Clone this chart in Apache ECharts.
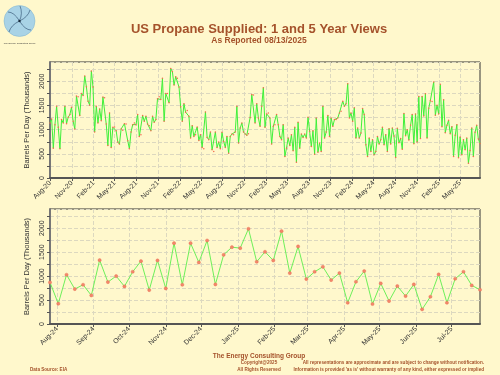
<!DOCTYPE html>
<html><head><meta charset="utf-8">
<script src="https://cdn.jsdelivr.net/npm/echarts@6/dist/echarts.min.js"></script>
<style>html,body{margin:0;padding:0;background:#fff8cc;}#c{width:500px;height:375px;}</style>
</head><body><div id="c"></div>
<script>
// ---- data ----
const firstWeek = [2020, 7, 31]; // first weekly observation (y, m, d)
const weeklySupplied = [
1139,1222,618,1104,1486,1049,604,1208,1139,1486,1125,1257,1312,1465,1174,1014,1694,1680,1292,1750,
1708,2111,1889,1590,1507,2215,1882,951,1486,1139,1430,1187,1674,1660,1118,674,1347,632,1049,1055,
979,743,701,1014,986,1125,1118,771,604,951,1104,1139,1104,1312,861,896,1292,1174,1278,1118,
1083,979,1278,1153,1208,1639,1680,1625,2062,1174,1750,1750,1555,2264,2201,1923,2097,2062,1882,1472,
1174,1535,1361,1396,1278,826,1083,861,896,1055,778,896,632,604,1368,840,792,951,583,549,
951,632,743,604,944,757,632,861,514,861,910,896,951,1486,722,1035,1139,951,910,882,
917,1250,
1729,1715,1139,1535,1243,1069,1486,1868,1049,1326,1347,1243,701,1069,1104,1312,1104,861,792,1104,
444,618,826,674,896,563,1049,326,1153,618,910,840,910,826,1257,965,653,979,493,1243,
535,722,549,1486,826,951,1292,861,1243,1069,1208,1208,1243,1347,1382,1590,1486,1535,1951,1243,
1347,1174,1451,826,1035,826,931,1437,1312,687,444,826,549,792,479,549,861,701,792,1049,
687,896,549,1021,701,1035,
868,424,1028,729,819,597,1333,875,1000,785,1090,1312,708,1326,743,1687,819,1687,1285,1743,
826,1444,1604,1583,1986,1299,1507,1326,1938,1062,1618,938,1090,1194,917,1062,444,882,1104,417,
847,479,792,583,826,306,569,1035,444,944,1090,806,715
];
const oneYearWeeks = 53;
const fiveYearTicks = ['2020-08-01','2020-11-01','2021-02-01','2021-05-01','2021-08-01','2021-11-01',
  '2022-02-01','2022-05-01','2022-08-01','2022-11-01','2023-02-01','2023-05-01','2023-08-01','2023-11-01',
  '2024-02-01','2024-05-01','2024-08-01','2024-11-01','2025-02-01','2025-05-01'];
const oneYearTicks = ['2024-08-01','2024-09-01','2024-10-01','2024-11-01','2024-12-01','2025-01-01',
  '2025-02-01','2025-03-01','2025-04-01','2025-05-01','2025-06-01','2025-07-01'];
const yTickLabels = [0, 500, 1000, 1500, 2000];
const monthNames = ['Jan','Feb','Mar','Apr','May','Jun','Jul','Aug','Sep','Oct','Nov','Dec'];

// ---- build ----
function ts(s){ const p = s.split('-').map(Number); return new Date(p[0], p[1]-1, p[2]).getTime(); }
const weekDates = weeklySupplied.map((_, i) => new Date(firstWeek[0], firstWeek[1]-1, firstWeek[2] + 7*i).getTime());
const fivePairs = weeklySupplied.map((v, i) => [weekDates[i], v]);
const onePairs = fivePairs.slice(fivePairs.length - oneYearWeeks);
const fiveTickTs = fiveYearTicks.map(ts);
const oneTickTs = oneYearTicks.map(ts);
const fmtDate = v => { const d = new Date(v); return monthNames[d.getMonth()] + '-' + String(d.getFullYear()).slice(2); };

const FONT = 'Liberation Sans';
const BROWN = '#a5522b';
const gridLine = {show:true, lineStyle:{type:'dashed', color:'#dcd8bf', width:1}};

function xAxisCfg(idx, ticks, min, max){
  return {
    type:'value', gridIndex:idx, min:min, max:max, scale:true,
    axisLine:{show:true, onZero:false, lineStyle:{color:'#555', width:2}},
    axisTick:{show:true, length:3, customValues:ticks, lineStyle:{color:'#555'}},
    axisLabel:{customValues:ticks, formatter:fmtDate, rotate:45, fontSize:7, color:'#333', fontFamily:FONT, margin:4, hideOverlap:false},
    splitLine:gridLine
  };
}
function yAxisCfg(idx){
  return {
    type:'value', gridIndex:idx, min:0, max:2400, interval:250,
    name:'Barrels Per Day (Thousands)', nameLocation:'middle', nameGap:18,
    nameTextStyle:{fontSize:7.5, color:'#333', fontFamily:FONT},
    axisLine:{show:true, lineStyle:{color:'#777', width:2}},
    axisTick:{show:true, length:3, lineStyle:{color:'#555'}},
    axisLabel:{rotate:90, fontSize:7, color:'#333', fontFamily:FONT, margin:4, showMaxLabel:false,
      formatter: v => yTickLabels.indexOf(v) >= 0 ? String(v) : ''},
    splitLine:gridLine
  };
}

const chart = echarts.init(document.getElementById('c'), null, {renderer:'canvas'});
chart.setOption({
  backgroundColor:'#fff8cc',
  animation:false,
  grid:[
    {left:50, right:20, top:62, height:116, show:true, borderColor:'#333', borderWidth:1, backgroundColor:'transparent'},
    {left:50, right:20, top:209, height:115, show:true, borderColor:'#333', borderWidth:1, backgroundColor:'transparent'}
  ],
  xAxis:[
    xAxisCfg(0, fiveTickTs, weekDates[0], weekDates[weekDates.length-1]),
    xAxisCfg(1, oneTickTs, onePairs[0][0], onePairs[onePairs.length-1][0])
  ],
  yAxis:[yAxisCfg(0), yAxisCfg(1)],
  series:[
    {type:'line', xAxisIndex:0, yAxisIndex:0, data:fivePairs, showAllSymbol:true,
     symbol:'circle', symbolSize:1.5, itemStyle:{color:'#f56a4e'},
     lineStyle:{color:'#3ff03a', width:1}, z:2},
    {type:'line', xAxisIndex:1, yAxisIndex:1, data:onePairs, showAllSymbol:true,
     symbol:'circle', symbolSize:3.2, itemStyle:{color:'#f3876c', borderColor:'#e8664a', borderWidth:0.4},
     lineStyle:{color:'#6ef05a', width:1}}
  ],
  graphic:[
    {type:'circle', shape:{cx:19.5, cy:21, r:15.5}, style:{fill:'#a9d3e6', stroke:'#7fb3cf', lineWidth:0.5}},
    {type:'bezierCurve', shape:{x1:19.5,y1:21,x2:8,y2:12,cpx1:14,cpy1:12}, style:{stroke:'#2a4a6a', lineWidth:0.6, fill:null}},
    {type:'bezierCurve', shape:{x1:19.5,y1:21,x2:31,y2:30,cpx1:25,cpy1:30}, style:{stroke:'#2a4a6a', lineWidth:0.6, fill:null}},
    {type:'bezierCurve', shape:{x1:19.5,y1:21,x2:30,y2:10,cpx1:28,cpy1:17}, style:{stroke:'#2a4a6a', lineWidth:0.6, fill:null}},
    {type:'bezierCurve', shape:{x1:19.5,y1:21,x2:9,y2:32,cpx1:11,cpy1:25}, style:{stroke:'#2a4a6a', lineWidth:0.6, fill:null}},
    {type:'bezierCurve', shape:{x1:19.5,y1:21,x2:20,y2:6,cpx1:23,cpy1:13}, style:{stroke:'#2a4a6a', lineWidth:0.6, fill:null}},
    {type:'circle', shape:{cx:19.5, cy:21, r:1.2}, style:{fill:'#1a2a3a'}},
    {type:'text', x:19.5, y:43, style:{text:'The Energy Consulting Group', fontSize:2.4, fill:'#333', align:'center', verticalAlign:'middle', fontFamily:FONT}},
    {type:'text', x:259, y:29, style:{text:'US Propane Supplied: 1 and 5 Year Views', fontSize:13, fontWeight:'bold', fill:BROWN, align:'center', verticalAlign:'middle', fontFamily:FONT}},
    {type:'text', x:259, y:41, style:{text:'As Reported 08/13/2025', fontSize:8.5, fontWeight:'bold', fill:BROWN, align:'center', verticalAlign:'middle', fontFamily:FONT}},
    {type:'text', x:259, y:356, style:{text:'The Energy Consulting Group', fontSize:6.5, fontWeight:'bold', fill:BROWN, align:'center', verticalAlign:'middle', fontFamily:FONT}},
    {type:'text', x:259, y:363, style:{text:'Copyright@2025', fontSize:4.6, fontWeight:'bold', fill:BROWN, align:'center', verticalAlign:'middle', fontFamily:FONT}},
    {type:'text', x:259, y:369.5, style:{text:'All Rights Reserved', fontSize:4.6, fontWeight:'bold', fill:BROWN, align:'center', verticalAlign:'middle', fontFamily:FONT}},
    {type:'text', x:30, y:369.5, style:{text:'Data Source: EIA', fontSize:4.6, fontWeight:'bold', fill:BROWN, align:'left', verticalAlign:'middle', fontFamily:FONT}},
    {type:'text', x:484, y:363, style:{text:'All representations are approximate and are subject to change without notification.', fontSize:4.6, fontWeight:'bold', fill:BROWN, align:'right', verticalAlign:'middle', fontFamily:FONT}},
    {type:'text', x:484, y:369.5, style:{text:"Information is provided 'as is' without warranty of any kind, either expressed or implied", fontSize:4.6, fontWeight:'bold', fill:BROWN, align:'right', verticalAlign:'middle', fontFamily:FONT}}
  ]
});
</script>
</body></html>
